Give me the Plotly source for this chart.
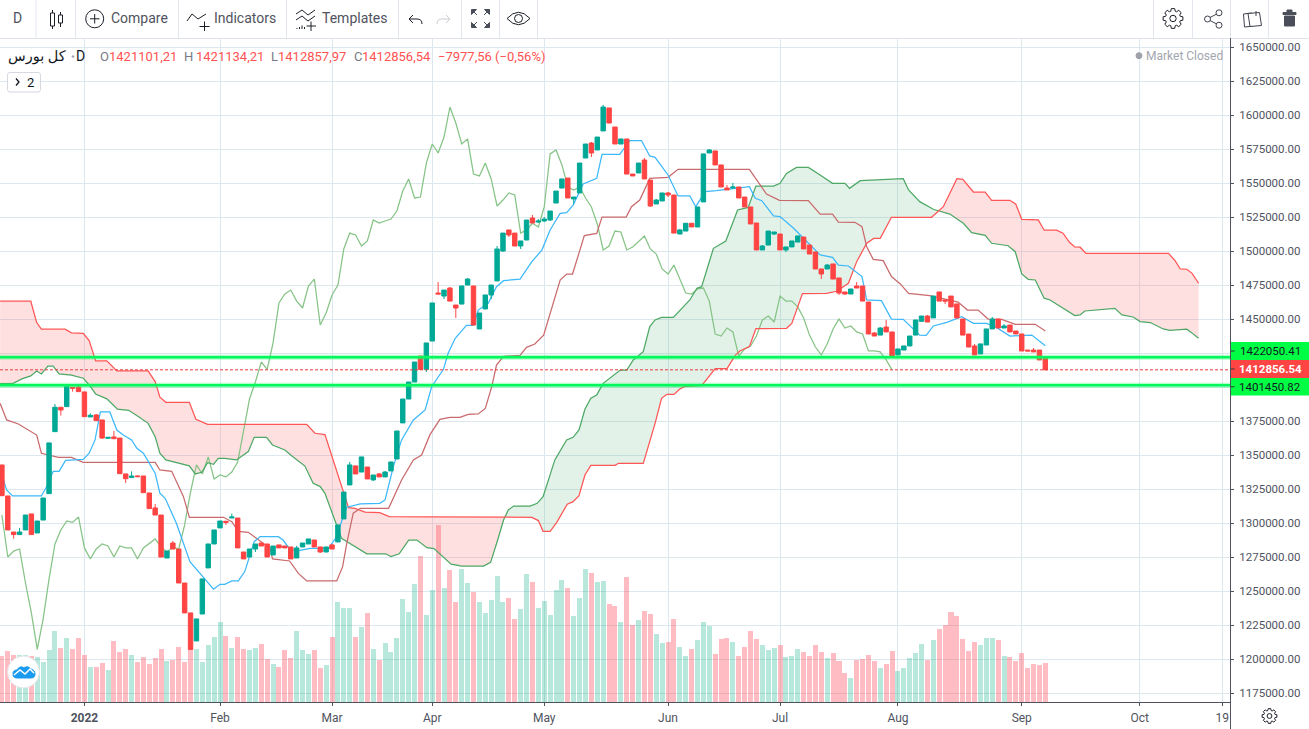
import re
import numpy as np
import plotly.graph_objects as go

# ---------------------------------------------------------------- data (prices in thousands)
OPEN = [1343.4,1320.6,1294.1,1292.2,1295.6,1307.4,1293.4,1302.9,1322.3,1367.9,
1385.8,1386.3,1400.5,1400.7,1397.1,1378.7,1380.2,1376.5,1363.0,1364.0,
1363.2,1336.8,1334.1,1335.3,1335.3,1322.8,1311.8,1306.6,1275.0,1286.0,
1281.6,1256.6,1234.6,1214.0,1233.8,1267.7,1285.3,1297.1,1302.0,1304.4,
1304.4,1279.4,1275.7,1281.6,1286.0,1285.3,1277.2,1284.6,1283.8,1283.1,
1275.0,1283.1,1285.3,1288.2,1283.1,1279.4,1284.6,1286.8,1303.7,1328.7,
1342.7,1338.2,1341.9,1332.4,1336.8,1334.6,1339.0,1347.8,1374.3,1391.9,
1404.4,1423.5,1413.7,1434.5,1469.8,1467.6,1473.5,1461.0,1461.7,1475.7,
1475.0,1443.4,1458.1,1468.4,1478.7,1500.7,1516.2,1513.9,1504.4,1508.8,
1525.0,1522.0,1522.8,1523.5,1536.0,1547.0,1554.4,1539.0,1543.4,1569.1,
1580.1,1575.0,1589.0,1605.9,1591.9,1579.4,1583.1,1557.3,1558.1,1567.6,
1552.9,1535.3,1537.5,1543.4,1541.9,1513.2,1515.4,1521.1,1518.4,1536.8,
1572.8,1574.3,1564.0,1547.0,1547.0,1547.8,1540.4,1533.1,1521.3,1501.5,
1505.1,1513.2,1513.2,1501.5,1503.7,1507.3,1511.0,1505.1,1500.0,1487.5,
1487.5,1491.2,1480.9,1470.6,1469.1,1475.0,1475.0,1463.2,1440.4,1438.9,
1444.8,1441.2,1424.3,1427.9,1430.9,1438.9,1449.0,1452.9,1451.5,1470.6,
1464.7,1467.6,1461.8,1450.7,1439.7,1430.9,1425.0,1431.6,1443.4,1450.7,
1444.1,1446.3,1441.9,1439.7,1427.9,1427.9,1427.9,1421.6]
CLOSE = [1320.8,1295.6,1292.2,1294.1,1306.6,1292.2,1302.2,1319.1,1359.6,1385.8,
1383.8,1401.0,1399.8,1397.3,1378.9,1379.9,1376.0,1363.2,1363.7,1362.7,
1337.0,1333.3,1335.3,1334.8,1323.0,1311.3,1306.6,1275.7,1280.1,1281.6,
1256.6,1234.6,1207.8,1230.2,1259.6,1285.3,1295.6,1302.2,1301.2,1305.1,
1282.4,1274.3,1281.6,1285.3,1283.8,1275.7,1283.8,1282.4,1282.4,1274.3,
1282.4,1286.0,1289.0,1283.1,1279.4,1283.1,1281.6,1299.3,1323.5,1343.4,
1336.8,1349.3,1333.1,1336.0,1334.6,1338.2,1345.6,1368.4,1391.9,1404.4,
1419.1,1413.7,1433.1,1462.5,1469.1,1472.0,1463.9,1458.8,1475.0,1480.1,
1446.3,1455.1,1468.4,1475.7,1502.2,1513.9,1512.5,1504.4,1508.1,1523.5,
1521.3,1522.8,1524.2,1530.1,1544.8,1553.7,1539.7,1540.4,1565.4,1579.4,
1572.8,1584.5,1606.6,1594.8,1579.4,1583.1,1557.3,1555.9,1565.4,1553.7,
1533.8,1538.2,1543.4,1541.9,1513.9,1516.2,1521.1,1518.4,1533.1,1572.1,
1575.0,1564.0,1547.8,1545.6,1547.8,1539.7,1533.1,1520.6,1501.5,1504.4,
1515.4,1514.7,1501.5,1503.7,1508.1,1511.8,1502.2,1498.5,1487.5,1483.8,
1490.4,1480.1,1469.8,1469.1,1472.8,1473.5,1463.9,1439.7,1438.2,1444.1,
1441.2,1423.5,1428.7,1430.9,1438.2,1450.0,1452.9,1448.5,1467.6,1463.9,
1463.9,1459.6,1451.5,1438.9,1430.1,1424.3,1432.4,1443.4,1450.7,1444.1,
1445.6,1441.2,1439.7,1427.2,1427.2,1426.5,1420.6,1413.36]
HIGH = [1343.4,1320.6,1294.1,1297.1,1306.6,1307.4,1302.2,1319.1,1359.6,1388.2,
1385.8,1402.0,1400.5,1401.5,1397.1,1381.4,1380.9,1376.5,1363.7,1368.4,
1363.2,1336.8,1338.7,1335.9,1335.3,1322.8,1314.7,1306.6,1280.1,1287.5,
1281.6,1256.6,1234.6,1230.2,1259.6,1285.3,1295.6,1302.2,1302.0,1307.6,
1304.4,1279.4,1281.6,1285.3,1286.0,1285.3,1283.8,1284.6,1283.8,1283.1,
1283.8,1286.0,1289.0,1288.2,1283.1,1283.1,1285.3,1299.3,1323.5,1345.6,
1342.7,1349.3,1341.9,1336.0,1337.5,1339.0,1345.6,1368.4,1391.9,1404.4,
1419.1,1423.5,1433.1,1462.5,1477.9,1472.0,1474.2,1461.0,1475.0,1480.9,
1475.0,1455.1,1468.4,1475.7,1504.4,1513.9,1516.2,1513.9,1508.1,1523.5,
1527.2,1524.2,1525.7,1530.1,1544.8,1553.7,1554.4,1540.4,1565.4,1579.4,
1580.9,1584.5,1608.1,1605.9,1591.9,1583.1,1583.1,1557.3,1565.4,1569.1,
1552.9,1539.0,1543.4,1544.1,1541.9,1516.9,1521.1,1521.1,1533.1,1572.1,
1575.7,1574.3,1564.0,1549.3,1550.7,1547.8,1540.4,1533.1,1521.3,1505.1,
1515.4,1514.7,1513.2,1503.7,1508.1,1511.8,1511.0,1505.1,1500.0,1487.5,
1491.2,1491.2,1480.9,1470.6,1472.8,1477.9,1475.0,1463.2,1441.2,1444.8,
1450.0,1441.2,1428.7,1430.9,1438.2,1450.0,1452.9,1453.7,1467.6,1470.6,
1464.7,1467.6,1461.8,1450.7,1439.7,1432.4,1432.4,1443.4,1452.2,1450.7,
1447.0,1446.3,1441.9,1439.7,1427.9,1429.4,1427.9,1421.63]
LOW = [1320.8,1295.6,1289.2,1292.2,1295.6,1292.2,1293.4,1302.9,1322.3,1367.9,
1379.7,1386.3,1397.3,1397.3,1378.9,1378.7,1376.0,1362.5,1363.0,1362.7,
1337.0,1330.2,1334.1,1334.8,1323.0,1311.3,1306.6,1275.7,1275.0,1281.6,
1256.6,1234.6,1207.8,1214.0,1233.8,1267.7,1285.3,1297.1,1299.3,1304.4,
1282.4,1274.3,1275.7,1279.4,1283.8,1275.7,1277.2,1282.4,1282.4,1274.3,
1275.0,1283.1,1285.3,1283.1,1278.7,1279.4,1281.6,1286.8,1303.7,1328.7,
1336.8,1338.2,1333.1,1331.6,1334.6,1334.6,1339.0,1347.8,1374.3,1391.9,
1404.4,1413.7,1411.7,1434.5,1469.1,1465.4,1463.9,1451.5,1461.7,1475.7,
1446.3,1443.4,1458.1,1465.4,1478.7,1500.0,1511.0,1504.4,1502.2,1508.8,
1521.3,1521.3,1522.0,1522.8,1536.0,1547.0,1539.7,1535.3,1543.4,1569.1,
1569.8,1575.0,1589.0,1594.8,1579.4,1579.4,1557.3,1555.9,1558.1,1553.7,
1533.1,1535.3,1537.5,1540.4,1513.9,1513.2,1515.4,1518.4,1518.4,1536.8,
1572.8,1564.0,1547.8,1545.6,1547.0,1539.7,1533.1,1520.6,1501.5,1501.5,
1505.1,1512.5,1501.5,1500.0,1503.7,1507.3,1502.2,1498.5,1487.5,1480.1,
1487.5,1480.1,1468.4,1468.4,1469.1,1473.5,1463.9,1439.7,1438.2,1438.9,
1441.2,1422.8,1424.3,1427.9,1430.9,1438.9,1448.5,1448.5,1451.5,1463.9,
1461.8,1459.6,1451.5,1438.9,1430.1,1424.3,1425.0,1431.6,1443.4,1444.1,
1444.1,1441.2,1439.7,1427.2,1427.2,1426.5,1420.6,1413.36]
VOLUME = [137,154,142,142,142,137,136,121,157,214,163,193,160,193,142,106,106,118,97,184,
151,160,142,121,136,115,133,160,124,127,166,121,160,160,121,172,196,241,199,163,
196,160,157,163,175,130,115,106,157,133,214,157,145,157,103,112,196,301,283,283,
196,226,268,160,127,178,151,193,310,271,355,439,262,337,532,343,397,301,400,358,
331,301,268,307,379,301,313,250,280,385,361,283,303,261,336,366,342,258,312,399,
387,360,363,294,288,240,375,231,246,273,264,204,177,180,249,165,138,159,186,240,
228,144,189,192,180,138,165,213,189,171,156,162,171,135,138,159,150,138,171,150,
132,147,123,87,72,126,129,141,123,102,114,153,93,102,132,147,174,126,186,219,
231,270,258,189,153,180,171,192,192,186,138,135,123,147,102,114,111,117]

TENKAN_I = [-0.3,0.8,1.8,6.7,7.6,8.7,9.7,10.8,13.8,14.8,15.8,16.7,18.3,19.5,20.6,22,22.9,24,26,26.8,27.7,29.6,31.9,35.9,37,37.8,39,40.1,41.2,42.1,42.8,43.8,46.9,47.7,48.9,50.3,52.3,55.4,56.6,58.5,60.8,64.1,65,66.4,67.8,69.8,71.8,72.9,74.9,75.7,76.9,78.8,80,80.8,82.5,83.9,85.1,87.9,89.9,91.6,93,94.7,95.8,96.9,98.6,100.9,101.8,104.8,106.5,108.5,109.9,110.8,113,114.7,116.7,117.7,119.3,121.2,125.8,126.8,127.8,128.9,130.9,132,134.3,138.8,140.9,141.9,143.6,145.9,146.7,149.2,150.9,152.9,155.7,156.8,158,160.3,162.8,164.8,167,168.5,171,174.7,177]
TENKAN_P = [1339.7,1325,1320.6,1320.6,1327.5,1338.7,1338.7,1346.8,1347.5,1352,1361.8,1382.4,1382.4,1369.1,1365.4,1361.8,1355.6,1352,1337.3,1322.6,1318.9,1300.5,1272.3,1252,1255.6,1255.6,1258.1,1258.1,1265,1278.4,1287,1290.7,1290.7,1288.2,1280.9,1280.4,1282.1,1282.1,1289.5,1312.3,1314.7,1315.2,1317.7,1342.2,1361.8,1376.5,1383.8,1400.9,1413.7,1425.5,1436.5,1446.1,1446.1,1457.3,1462.2,1474.5,1478.9,1480.1,1492.9,1501.4,1516.2,1528.4,1528.9,1534.5,1550,1554.1,1571.8,1571.8,1581.8,1581.8,1570.6,1569.6,1556.6,1541.2,1541.2,1533.3,1544.4,1545.1,1547.5,1548,1539.5,1537.7,1526.5,1526,1517.4,1497.8,1496.1,1490.4,1489.7,1481.9,1464.7,1464.2,1450.7,1450.5,1438.9,1438.7,1445.6,1448.3,1452.4,1447.5,1447.5,1445.1,1438.2,1438.9,1431]

KIJUN_I = [-0.3,0.8,2.8,5.9,6.7,9.6,11.8,13.8,26,26.8,28.8,30.8,31.8,37.6,39,40.1,41.8,43.5,45.5,45.9,48.8,50.3,51.7,56.8,57.8,58.5,59.6,60.8,65.6,67.8,69.8,71.2,72.6,74.3,76,77.7,79.1,80.8,82,83.1,83.9,85.1,87.9,89,90.4,91.9,94.7,95.8,96.8,98.8,100.9,101.8,105.9,106.8,108.2,109.9,113,114.7,126.8,129.7,131.9,136.8,138.8,140.9,141.9,144.7,145.9,146.7,147.8,149.5,150.9,152.4,153.8,157.4,162.2,163.8,165.6,167.3,169.6,171.9,175.3,177]
KIJUN_P = [1388.7,1376.5,1373.5,1365.4,1352,1349,1349,1345.3,1345.3,1339.7,1338.7,1320.1,1304.9,1304.9,1301.7,1294.6,1293.9,1288.2,1282.1,1274.3,1272.8,1263.7,1258.1,1258.1,1268.6,1285.8,1307.9,1311.5,1311.5,1332.4,1347.1,1350.7,1365.5,1376.9,1378.4,1378.4,1380.6,1380.9,1385,1401,1416.9,1423.3,1424,1429.9,1432.3,1438.9,1479.4,1483.8,1483.8,1512,1513.7,1525.7,1525.7,1533.3,1538.2,1554.1,1554.9,1560.8,1560.8,1542.6,1538,1537.7,1527.9,1527.9,1522,1521.8,1518.6,1503.9,1494.6,1493.6,1481.9,1476.5,1469.6,1467.9,1463.2,1457.3,1457.3,1450.7,1450.5,1446.8,1446.8,1441.9]

SENKOU_A_I = [-0.3,1.8,3.4,4.9,5.9,6.7,7.8,8.7,9.7,11.8,13.8,14.8,15.9,17.8,19.6,21.5,23.2,24.8,26,26.8,27.8,30.8,31.8,32.8,33.9,34.9,35.9,36.7,37.8,39.8,41.8,42.8,44.9,45.9,48,49.2,51.4,52.8,54,54.8,56.2,57.6,61.9,65.1,66,67.4,69,70.4,72.1,73.3,76.2,78,81.7,82.9,84.1,85.1,85.9,86.8,89.6,90.8,91.8,93.8,95.8,96.9,97.9,98.9,99.9,100.9,102,104.9,106,107.1,108.8,109.9,110.8,111.9,113.9,116.7,117.9,118.7,120.7,122.8,124.8,126.6,127.9,130.9,132,133.1,134.8,136.8,138.8,140.9,143,143.8,145.6,150.1,152.9,153.8,155.7,158,160.8,163.1,164.5,166.8,167.9,170.7,171.9,173,174.1,175.3,176.8,177.8,182,182.9,183.7,188.8,190,191.9,193.1,194.8,197,198.1,201,201.8,203]
SENKOU_A_P = [1403.2,1403.2,1406.7,1408.9,1412.5,1410.3,1416,1416,1410.3,1409.4,1407.2,1402.2,1395.6,1392,1384.4,1383.6,1378.9,1374,1364.2,1352,1347.1,1344.1,1342.7,1336.8,1338,1345.1,1343.9,1348.3,1348.3,1347.1,1353.2,1363.7,1363.7,1358.1,1354.4,1350,1342.6,1329.9,1327.5,1322.5,1306.6,1289.5,1278.1,1278.1,1276,1278.1,1288.2,1288.2,1282.6,1281.9,1270.5,1269,1269,1271.8,1288.2,1302.9,1310.3,1313.2,1313.2,1315.2,1320.1,1347.1,1361.8,1363.7,1369.1,1384.3,1392.4,1394.9,1403.4,1413.2,1413.2,1420.6,1426.7,1445.1,1450,1451.9,1451.9,1464.7,1473.3,1474.5,1502.7,1508.1,1530.9,1532.8,1548.5,1548.5,1550.5,1557.8,1562.2,1562.2,1556.6,1550.5,1550.5,1546.8,1552.4,1553.4,1553.9,1545.6,1537,1531.4,1527.9,1521.1,1514.2,1512.2,1506.4,1504.6,1500.2,1483.8,1479.9,1479.4,1466,1464.7,1453.2,1453.7,1456.6,1458.6,1453.7,1452.2,1448.8,1448.1,1443.4,1442.4,1443.2,1440.7,1436.5]

SENKOU_B_I = [-0.3,4.9,5.9,6.7,10.7,11.8,13.8,14.8,15.9,17.8,19.5,24.8,26,26.8,27.8,31.8,32.9,34.9,51.7,53.1,54.8,58.8,59.9,61.6,64.1,65.7,72.6,81.1,89.9,91,91.8,93,94.1,95.9,96.9,97.9,98.9,99.9,104,104.6,108.8,110.8,111.9,112.8,114,115,115.9,118.7,121,123,124.4,125.2,126.8,127.9,133.1,134,135.8,139.9,141.6,143.6,145,146.7,147.9,149,150.9,157.7,159.7,162,163,164.8,166.8,167.9,171,172,173,175.8,176.8,178.9,180,181.1,182,182.9,183.9,197.9,199,199.9,201,201.9,203]
SENKOU_B_P = [1463.8,1463.8,1448.1,1443.2,1443.2,1440.5,1440.2,1434.8,1419.9,1419.9,1412.5,1412.5,1404.7,1393.2,1389.5,1389.5,1377,1373.3,1373.3,1366.7,1365.7,1312,1311.5,1308.8,1308.3,1305.4,1305.2,1304.9,1304.9,1302.5,1294.6,1294.6,1301,1314.5,1316.4,1320.8,1336,1343.1,1343.1,1344.6,1344.6,1374,1392.4,1395.3,1395.3,1399.3,1401.2,1401.7,1414.2,1414.2,1424,1427.2,1430.4,1443.6,1443.9,1447.5,1469.4,1469.6,1471.1,1477,1492.9,1506.4,1510,1510,1525.5,1525.5,1533.3,1553.9,1553.4,1544.1,1544.1,1538,1538,1535.1,1524,1523.6,1516,1516,1513.8,1507.1,1503.7,1503.5,1499,1499,1493.7,1487.5,1487.3,1484.3,1477]

TICK_INDEX = [14, 37, 56, 73, 92, 113, 132, 152, 173, 193, 207]
TICK_TEXT = ["<b>2022</b>", "Feb", "Mar", "Apr", "May", "Jun", "Jul", "Aug", "Sep", "Oct", "19"]
PRICE_TICKS = list(range(1175000, 1650001, 25000))
PRICE_TICKS_UNDER_LABELS = [1425000, 1400000]

LEVEL_UP = 1422050.41
LEVEL_DOWN = 1401450.82
LAST_PRICE = 1412856.54

HEADER = [("O", "1421101,21"), ("H", "1421134,21"), ("L", "1412857,97"), ("C", "1412856,54")]
CHANGE = "−7977,56 (−0,56%)"

# ---------------------------------------------------------------- helpers
W, H = 1309, 729
READ_SHIFT = -0.5   # calibration of the readings against the price grid


def money(values):
    return [(v + READ_SHIFT) * 1000 for v in values]


def fx(x):
    return x / W


def fy(y):
    return 1 - y / H


def path(d):
    out, n = [], 0
    for tok in re.findall(r"[A-Za-z]|-?\d+\.?\d*", d):
        if tok.isalpha():
            out.append(tok)
            n = 0
        else:
            v = float(tok)
            out.append(f"{fx(v) if n % 2 == 0 else fy(v):.5f}")
            n += 1
    return " ".join(out)


shapes, notes = [], []
INK = "#3f434e"


def line(x0, y0, x1, y1, color=INK, width=1, dash="solid"):
    shapes.append(dict(type="line", xref="paper", yref="paper", x0=fx(x0), x1=fx(x1), y0=fy(y0), y1=fy(y1),
                       line=dict(color=color, width=width, dash=dash), layer="above"))


def rect(x0, y0, x1, y1, fill="rgba(0,0,0,0)", color=None, width=1):
    shapes.append(dict(type="rect", xref="paper", yref="paper", x0=fx(x0), x1=fx(x1), y0=fy(y0), y1=fy(y1),
                       fillcolor=fill, line=dict(color=color or fill, width=width if color else 0), layer="above"))


def circle(cx, cy, r, fill="rgba(0,0,0,0)", color=INK, width=1):
    shapes.append(dict(type="circle", xref="paper", yref="paper", x0=fx(cx - r), x1=fx(cx + r), y0=fy(cy + r), y1=fy(cy - r),
                       fillcolor=fill, line=dict(color=color, width=width), layer="above"))


def svg(d, fill="rgba(0,0,0,0)", color=INK, width=1):
    shapes.append(dict(type="path", xref="paper", yref="paper", path=path(d), fillcolor=fill,
                       line=dict(color=color, width=width), layer="above"))


def text(x, y, s, size=14, color="#50535e", anchor="left", family="Roboto, DejaVu Sans, sans-serif"):
    notes.append(dict(xref="paper", yref="paper", x=fx(x), y=fy(y), text=s, showarrow=False, xanchor=anchor,
                      yanchor="middle", align=anchor, font=dict(size=size, color=color, family=family),
                      borderpad=0, borderwidth=0))


def gear(cx, cy, R, r, hole, color="#1b1e27"):
    pts = []
    for k in range(8):
        a = k * np.pi / 4
        for da, rad in ((-0.17, R), (0.17, R), (0.3, r), (0.485, r)):
            pts.append((cx + rad * np.cos(a + da), cy + rad * np.sin(a + da)))
    d = "M" + " L".join(f"{x:.2f} {y:.2f}" for x, y in pts) + " Z"
    svg(d, color=color)
    circle(cx, cy, hole, color=color)


# ---------------------------------------------------------------- figure
TEAL, RED = "#00a896", "#ff4444"
idx = list(range(len(CLOSE)))
fig = go.Figure()

vol_colors = ["rgba(0,170,125,0.28)" if c >= o else "rgba(255,60,75,0.34)" for o, c in zip(OPEN, CLOSE)]
fig.add_trace(go.Bar(x=idx, y=VOLUME, marker=dict(color=vol_colors, line=dict(width=0)), width=0.85,
                     yaxis="y", hoverinfo="skip"))

# cloud polygons between the two senkou spans
grid = sorted(set(SENKOU_A_I) | set(SENKOU_B_I))
a = np.interp(grid, SENKOU_A_I, SENKOU_A_P)
b = np.interp(grid, SENKOU_B_I, SENKOU_B_P)
segs, cur = [], [(grid[0], a[0], b[0])]
for j in range(1, len(grid)):
    d0, d1 = a[j - 1] - b[j - 1], a[j] - b[j]
    if d0 * d1 < 0:
        t = d0 / (d0 - d1)
        xc = grid[j - 1] + t * (grid[j] - grid[j - 1])
        yc = a[j - 1] + t * (a[j] - a[j - 1])
        cur.append((xc, yc, yc))
        segs.append(cur)
        cur = [(xc, yc, yc)]
    cur.append((grid[j], a[j], b[j]))
segs.append(cur)
for s in segs:
    xs = [p[0] for p in s]
    ya = [p[1] for p in s]
    yb = [p[2] for p in s]
    up = sum(ya) > sum(yb)
    fig.add_trace(go.Scatter(x=xs + xs[::-1], y=money(ya + yb[::-1]), mode="lines", fill="toself",
                             fillcolor="rgba(76,175,110,0.16)" if up else "rgba(255,82,82,0.18)",
                             line=dict(width=0), yaxis="y2", hoverinfo="skip"))


def ichimoku(x, y, color):
    fig.add_trace(go.Scatter(x=x, y=money(y), mode="lines", line=dict(color=color, width=1.25),
                             yaxis="y2", hoverinfo="skip"))


ichimoku(idx[:len(CLOSE) - 26], CLOSE[26:], "#86c386")
ichimoku(SENKOU_A_I, SENKOU_A_P, "#4da865")
ichimoku(SENKOU_B_I, SENKOU_B_P, "#ff5555")
ichimoku(KIJUN_I, KIJUN_P, "#c96a6c")
ichimoku(TENKAN_I, TENKAN_P, "#3db8fb")

fig.add_trace(go.Candlestick(x=idx, open=money(OPEN), high=money(HIGH), low=money(LOW), close=money(CLOSE),
                             increasing=dict(line=dict(color=TEAL, width=1), fillcolor=TEAL),
                             decreasing=dict(line=dict(color=RED, width=1), fillcolor=RED),
                             whiskerwidth=0, yaxis="y3", hoverinfo="skip"))

# price levels
PLOT_R = 1230
for level, width, col in ((LEVEL_UP, 5, "rgba(0,255,90,0.30)"), (LEVEL_UP, 2.5, "#04f75c"),
                          (LEVEL_DOWN, 5, "rgba(0,255,90,0.30)"), (LEVEL_DOWN, 2.5, "#04f75c")):
    shapes.append(dict(type="line", xref="paper", yref="y2", x0=0, x1=fx(PLOT_R), y0=level, y1=level,
                       line=dict(color=col, width=width), layer="above"))
shapes.append(dict(type="line", xref="paper", yref="y2", x0=0, x1=fx(PLOT_R), y0=LAST_PRICE, y1=LAST_PRICE,
                   line=dict(color="#e83a3a", width=1, dash="3px,2px"), layer="above"))

# price-scale labels
for y0, y1, fill, label, col, bold in ((342, 360, "#00ff44", f"{LEVEL_UP:.2f}", "#131722", False),
                                       (360, 378, "#ff4444", f"{LAST_PRICE:.2f}", "#ffffff", True),
                                       (378, 395.5, "#00ff44", f"{LEVEL_DOWN:.2f}", "#131722", False)):
    rect(PLOT_R + 0.5, y0, W, y1, fill=fill)
    line(PLOT_R + 1, (y0 + y1) / 2, PLOT_R + 4.5, (y0 + y1) / 2, color="#30333c")
    text(1270, (y0 + y1) / 2, f"<b>{label}</b>" if bold else label, size=11.5, color=col, anchor="center")

# chrome
rect(0, 0, W, 38, fill="#ffffff")
line(0, 38.5, W, 38.5, color="#e0e4ea")
for xd in (36, 75.5, 178.5, 286.5, 398.5, 461.5, 499.5, 537.5, 1153.5, 1192.5, 1230.5, 1268.5):
    line(xd, 0, xd, 38, color="#e3e7ed")
line(PLOT_R + 0.5, 38, PLOT_R + 0.5, 729, color="#50535e")

text(17, 18.5, "D", size=14, anchor="center")
text(111, 18.5, "Compare")
text(214, 18.5, "Indicators")
text(322, 18.5, "Templates")

# candles icon
line(52.5, 10, 52.5, 29, color="#1b1e27")
rect(50.5, 13, 54.5, 26, fill="#ffffff", color="#1b1e27")
line(60.5, 12, 60.5, 27, color="#1b1e27")
rect(58.5, 15, 62.5, 23, fill="#ffffff", color="#1b1e27")
# compare
circle(94.7, 18.8, 9, color="#1b1e27")
line(94.7, 14, 94.7, 23.5, color="#1b1e27")
line(90, 18.8, 99.5, 18.8, color="#1b1e27")
# indicators
svg("M187 21 L192 14 L198 19 L206 14", color="#1b1e27")
line(204.5, 21.5, 204.5, 31, color="#1b1e27")
line(199.5, 26.5, 209.5, 26.5, color="#1b1e27")
# templates
svg("M296 14 L302 10 L308 15 L315 10", color="#1b1e27")
svg("M296 20 L302 16 L308 21 L315 16", color="#1b1e27")
for xb, yb_ in ((297, 28), (299.5, 27), (302, 25.5), (304.5, 27)):
    line(xb, 29, xb, yb_, color="#1b1e27")
line(311, 21.5, 311, 31, color="#1b1e27")
line(306.5, 26, 316, 26, color="#1b1e27")
# undo / redo
svg("M413 15 L409 19 L413 23 M409 19 L417 19 Q422 19 422 24", color="#1b1e27")
svg("M446 15 L450 19 L446 23 M450 19 L442 19 Q437 19 437 24", color="#c8ccd4")
# fullscreen
for d in ("M471.5 9.5 L476.5 9.5 L471.5 14.5 Z M473 11 L477 15",
          "M489.5 9.5 L484.5 9.5 L489.5 14.5 Z M488 11 L484 15",
          "M471.5 27.5 L476.5 27.5 L471.5 22.5 Z M473 26 L477 22",
          "M489.5 27.5 L484.5 27.5 L489.5 22.5 Z M488 26 L484 22"):
    svg(d, fill="#4a4e5a", color="#4a4e5a")
# eye
svg("M507 18.5 Q518.5 6 530 18.5 Q518.5 31 507 18.5 Z", color="#1b1e27")
circle(518.5, 18.5, 4, color="#1b1e27")
# settings, share, notes, trash
gear(1173, 18.5, 10, 7.6, 3.2)
for cx, cy in ((1219, 12.8), (1207.5, 19), (1219, 25.2)):
    circle(cx, cy, 3, color="#3f434e")
line(1210, 17.5, 1216.4, 14.2, color="#3f434e")
line(1210, 20.5, 1216.4, 23.8, color="#3f434e")
svg("M1243.5 14 L1252 13 L1253 26 L1244.5 27 Z", color="#3f434e")
svg("M1248 13.5 L1259.5 12.5 L1261.5 25.5 L1250 26.5 Z", fill="#ffffff", color="#3f434e")
line(1256, 11, 1256, 16, color="#3f434e")
svg("M1283 12.5 L1296 12.5 L1296 14.5 L1283 14.5 Z M1284.5 16 L1294.5 16 L1294.5 26 L1284.5 26 Z M1287 10 L1292 10 L1292 12.5 L1287 12.5 Z",
    fill="#4a4e5a", color="#4a4e5a")
gear(1269.5, 716, 7.5, 5.7, 2.4)

# legend header
text(8, 56.5, "کل بورس", size=14.5, color="#131722")
circle(73, 56.5, 0.8, fill="#9598a1", color="#9598a1")
text(80, 56, "D", size=14, color="#131722", anchor="center")
for (letter, value), lx, vx in zip(HEADER, (99.7, 184.3, 270.6, 354), (108.6, 195.7, 277.8, 362)):
    text(lx, 56, letter, size=13, color="#787b86")
    text(vx, 56, value, size=13, color="#ff5252")
text(437.7, 56, CHANGE, size=13, color="#ff5252")

shapes.append(dict(type="path", xref="paper", yref="paper", layer="above", fillcolor="#ffffff",
                   line=dict(color="#d6d9e0", width=1),
                   path=path("M10 72.5 L38 72.5 Q40.5 72.5 40.5 75 L40.5 89.5 Q40.5 92 38 92 L10 92 Q7.5 92 7.5 89.5 L7.5 75 Q7.5 72.5 10 72.5 Z")))
svg("M16 78.5 L19 82 L16 85.5", color="#131722", width=1.3)
text(30, 82, "2", size=13, color="#131722", anchor="center")

circle(1139, 55.7, 3, fill="#9ea1aa", color="#9ea1aa")
text(1146, 55.7, "Market Closed", size=12, color="#a3a6af")

# badge
circle(23.5, 672, 16, fill="#ffffff", color="#e4e6ea")
svg("M13 674 Q13 670 17 670 Q20 665 24 668 Q28 665 31 669 Q35 670 35 674 Q35 678 31 678 L17 678 Q13 678 13 674 Z",
    fill="#1a9bf0", color="#1a9bf0")
svg("M14 675 L20 670 L25 674 L30 669 L34 673", color="#ffffff", width=1.5)

Y_RANGE = [1650000 - (702 - 47.3) * 735.294, 1650000 + (47.3 - 39) * 735.294]
DOMAIN_Y = [fy(702), fy(39)]
fig.update_layout(
    width=W, height=H, margin=dict(l=0, r=0, t=0, b=0), autosize=False,
    paper_bgcolor="#ffffff", plot_bgcolor="#ffffff", showlegend=False, hovermode=False, dragmode=False,
    boxgap=0.25, boxgroupgap=0, bargap=0, font=dict(family="Roboto, DejaVu Sans, sans-serif", size=12, color="#50535e"),
    xaxis=dict(domain=[0, fx(PLOT_R)], range=[(0 - 1.9) / 5.895, (PLOT_R - 1.9) / 5.895], anchor="y",
               tickmode="array", tickvals=TICK_INDEX, ticktext=TICK_TEXT, ticks="outside", ticklen=3, tickwidth=1,
               tickcolor="#50535e", showline=True, linecolor="#50535e", linewidth=1, showgrid=True,
               gridcolor="#dde8ee", gridwidth=1, zeroline=False, rangeslider=dict(visible=False),
               tickfont=dict(size=12, color="#50535e", family="Roboto"), ticklabelstandoff=2),
    yaxis=dict(domain=DOMAIN_Y, range=[0, 663 * 3], visible=False, fixedrange=True),
    yaxis2=dict(domain=DOMAIN_Y, range=Y_RANGE, overlaying="y", side="right", anchor="x", tickmode="array",
                tickvals=PRICE_TICKS,
                ticktext=["" if p in PRICE_TICKS_UNDER_LABELS else f"{p:.2f}" for p in PRICE_TICKS],
                ticks="outside", ticklen=3, tickwidth=1,
                tickcolor="#50535e", showline=True, linecolor="#50535e", linewidth=1, showgrid=True,
                gridcolor="#dde8ee", gridwidth=1, zeroline=False,
                tickfont=dict(size=11.5, color="#50535e", family="Roboto"), ticklabelstandoff=3),
    yaxis3=dict(domain=DOMAIN_Y, range=Y_RANGE, overlaying="y", side="right", anchor="x", visible=False),
    shapes=shapes, annotations=notes,
)

fig.write_html("out.html", config=dict(displayModeBar=False, responsive=False),
               post_script="document.body.style.margin='0';document.body.style.overflow='hidden';")
